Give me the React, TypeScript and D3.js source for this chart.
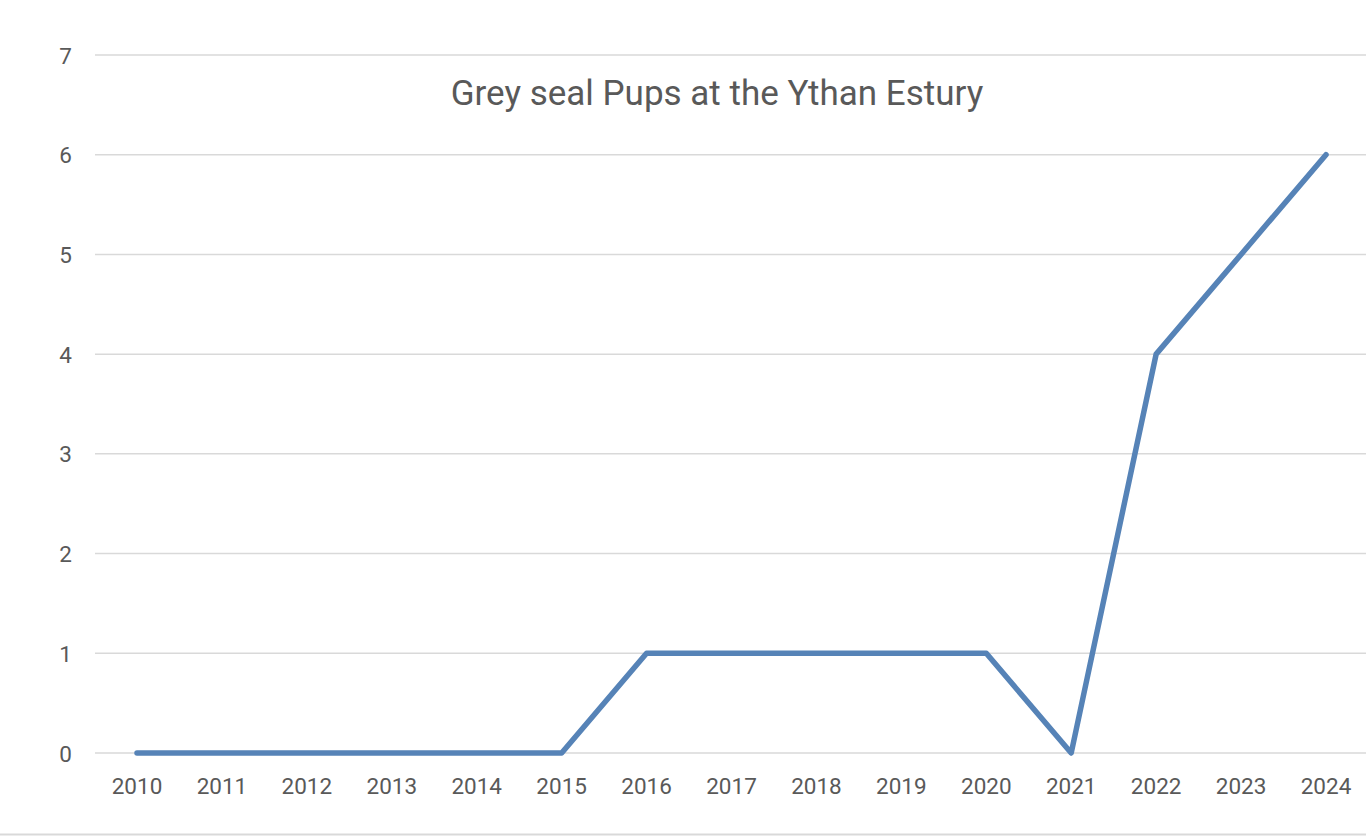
import React from "react";
import * as d3 from "d3";

const years = ["2010","2011","2012","2013","2014","2015","2016","2017","2018","2019","2020","2021","2022","2023","2024"];
const pups = [0,0,0,0,0,0,1,1,1,1,1,0,4,5,6];
const yTicks = [0,1,2,3,4,5,6,7];
const title = "Grey seal Pups at the Ythan Estury";

export default function App() {
  const W = 1366, H = 836;
  const x = d3.scalePoint<string>().domain(years).range([137, 1326]);
  const y = d3.scaleLinear().domain([0, 7]).range([753, 55]);
  const line = d3.line<number>().x((_, i) => x(years[i]) as number).y(d => y(d));
  const font = "Roboto, 'Noto Sans', sans-serif";
  return (
    <div style={{ position: "fixed", left: 0, top: 0 }}>
      <svg width={W} height={H} style={{ display: "block", background: "#fff" }}>
        {yTicks.map(t => (
          <g key={t}>
            <line x1={95} x2={1366} y1={y(t)} y2={y(t)} stroke="#d9d9d9" strokeWidth={1.5} />
            <text x={72} y={y(t) + 8.5} textAnchor="end" fontFamily={font} fontSize={22.5} fill="#595959">{t}</text>
          </g>
        ))}
        {years.map(yr => (
          <text key={yr} x={x(yr)} y={794} textAnchor="middle" fontFamily={font} fontSize={22.5} fill="#595959">{yr}</text>
        ))}
        <line x1={0} x2={W} y1={834.5} y2={834.5} stroke="#d9d9d9" strokeWidth={2} />
        <path d={line(pups) || ""} fill="none" stroke="#5683b7" strokeWidth={5.5} strokeLinejoin="round" strokeLinecap="round" />
        <text x={717} y={105} textAnchor="middle" fontFamily={font} fontSize={35} fill="#595959">{title}</text>
      </svg>
    </div>
  );
}
